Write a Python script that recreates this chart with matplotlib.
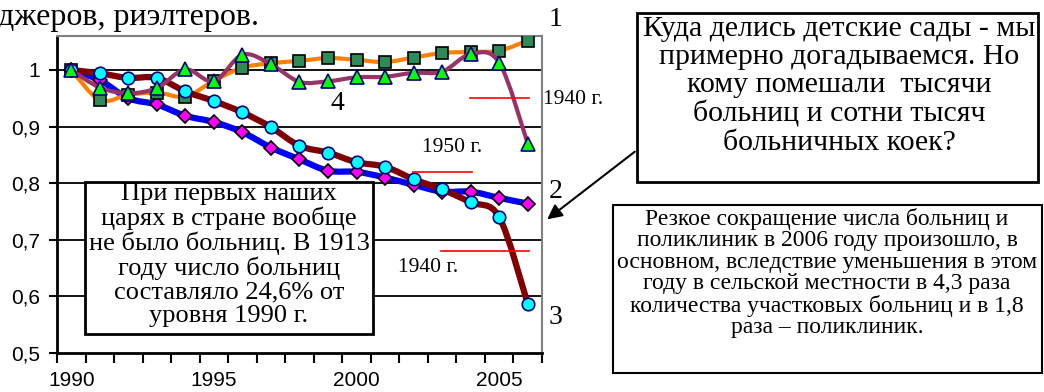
import matplotlib
matplotlib.use("Agg")
import matplotlib.pyplot as plt
from matplotlib.path import Path
from matplotlib.patches import PathPatch, Rectangle, FancyArrowPatch
import numpy as np

W, H = 1044, 392

years = list(range(1990, 2007))
year_labels = ["1990", "1995", "2000", "2005"]

# 1 - orange / squares
s1 = [1.0, 0.947, 0.956, 0.96, 0.953, 0.981, 1.004, 1.012, 1.016, 1.021,
      1.018, 1.014, 1.022, 1.03, 1.032, 1.034, 1.052]
# 2 - blue / diamonds
s2 = [1.0, 0.982, 0.95, 0.939, 0.919, 0.908, 0.89, 0.863, 0.842, 0.822,
      0.82, 0.81, 0.797, 0.785, 0.785, 0.774, 0.764]
# 3 - maroon / circles
s3 = [1.0, 0.994, 0.986, 0.986, 0.962, 0.945, 0.925, 0.899, 0.866, 0.854,
      0.837, 0.829, 0.807, 0.789, 0.766, 0.74, 0.587]
# 4 - mauve / triangles
s4 = [1.0, 0.969, 0.959, 0.968, 1.001, 0.98, 1.027, 1.01, 0.979, 0.98,
      0.987, 0.988, 0.995, 0.997, 1.028, 1.013, 0.87]

# reference levels (red marks): label, value, first year, last year
ref_levels = [("1940 г.", 0.95, 2004, 2006),
              ("1950 г.", 0.82, 2002, 2004),
              ("1940 г.", 0.68, 2003, 2006)]

plt.rcParams['font.family'] = ['Liberation Serif', 'DejaVu Serif']


def px(x, y):
    return x / W, 1 - y / H


def smooth_path(xs, ys):
    # bezier smoothing like Excel "smoothed line"
    pts = np.column_stack([xs, ys])
    n = len(pts)
    verts = [pts[0]]
    codes = [Path.MOVETO]
    for i in range(n - 1):
        p0 = pts[max(i - 1, 0)]
        p1 = pts[i]
        p2 = pts[i + 1]
        p3 = pts[min(i + 2, n - 1)]
        c1 = p1 + (p2 - p0) / 6.0
        c2 = p2 - (p3 - p1) / 6.0
        verts += [c1, c2, p2]
        codes += [Path.CURVE4] * 3
    return Path(verts, codes)


fig = plt.figure(figsize=(W / 100, H / 100), dpi=100)
ax = fig.add_axes([57 / W, 1 - 353 / H, 485 / W, 317 / H])

x = np.arange(len(years))

series = [
    (s2, '#0000FF', 4.5, 'D', '#FF00FF', 'black', 7.5, 3),
    (s1, '#FF7F00', 3.0, 's', '#2E8B57', 'black', 9, 4),
    (s3, '#800000', 4.5, 'o', '#00FFFF', '#000080', 9, 5),
    (s4, '#993366', 3.0, '^', '#00FF00', '#000080', 10, 6),
]
for vals, lc, lw, mk, mfc, mec, ms, z in series:
    ax.add_patch(PathPatch(smooth_path(x, vals), facecolor='none',
                           edgecolor=lc, lw=lw, zorder=z, capstyle='round',
                           joinstyle='round'))
    ax.plot(x, vals, linestyle='none', marker=mk, markerfacecolor=mfc,
            markeredgecolor=mec, markeredgewidth=1.2, markersize=ms, zorder=z + 0.5)

for lab, v, y0, y1 in ref_levels:
    ax.plot([years.index(y0) - 0.03, years.index(y1) + 0.06], [v, v],
            color='red', lw=1.2, zorder=7)

ax.set_xlim(-0.5, len(years) - 0.5)
ax.set_ylim(0.5, 1.06)
ax.set_yticks([0.5, 0.6, 0.7, 0.8, 0.9, 1.0])
ax.set_yticklabels(["0,5", "0,6", "0,7", "0,8", "0,9", "1"])
ax.set_xticks([years.index(int(s)) for s in year_labels])
ax.set_xticklabels(year_labels)
ax.set_xticks(np.arange(-0.5, len(years)), minor=True)
ax.tick_params(axis='x', which='major', length=0, pad=13)
ax.tick_params(axis='x', which='minor', length=7, width=1.5, direction='out')
ax.tick_params(axis='y', length=6, width=1.5, direction='out', pad=6)
for lab in ax.get_xticklabels() + ax.get_yticklabels():
    lab.set_fontfamily('Liberation Sans')
    lab.set_fontsize(15)

for yv in [0.6, 0.7, 0.8, 0.9, 1.0]:
    ax.axhline(yv, color='black', lw=1.3, zorder=1)

ax.spines['left'].set_linewidth(2)
ax.spines['bottom'].set_linewidth(2)
ax.spines['top'].set_color('#808080')
ax.spines['right'].set_color('#808080')
ax.spines['top'].set_linewidth(1.5)
ax.spines['right'].set_linewidth(1.5)

# series labels
fig.text(*px(549, 20), "1", fontsize=20, ha='left', va='center')
fig.text(*px(549, 192), "2", fontsize=20, ha='left', va='center')
fig.text(*px(549, 318), "3", fontsize=20, ha='left', va='center')
fig.text(*px(337, 103), "4", fontsize=20, ha='center', va='center')

# level labels
fig.text(*px(543, 100), "1940 г.", fontsize=15.5, ha='left', va='center')
fig.text(*px(452, 148), "1950 г.", fontsize=15.5, ha='center', va='center')
fig.text(*px(428, 268), "1940 г.", fontsize=15.5, ha='center', va='center')

# cut-off text at the top
fig.text(*px(-2, 18), "джеров, риэлтеров.", fontsize=23, ha='left', va='center')

# left box
fig.patches.append(Rectangle(px(85, 334), 288 / W, 152 / H, transform=fig.transFigure,
                             facecolor='white', edgecolor='black', lw=2, zorder=10))
fig.text(*px(229, 255), "При первых наших\nцарях в стране вообще\nне было больниц. В 1913\n"
         "году число больниц\nсоставляло 24,6% от\nуровня 1990 г.",
         fontsize=19, ha='center', va='center', linespacing=1.09, zorder=11)

# upper right box
fig.patches.append(Rectangle(px(637, 182), 401 / W, 169 / H, transform=fig.transFigure,
                             facecolor='white', edgecolor='black', lw=2, zorder=10))
fig.text(*px(839, 86), "Куда делись детские сады - мы\nпримерно догадываемся. Но\n"
         "кому помешали  тысячи\nбольниц и сотни тысяч\nбольничных коек?",
         fontsize=21.5, ha='center', va='center', linespacing=1.1, zorder=11)

# lower right box
fig.patches.append(Rectangle(px(613, 373), 429 / W, 168 / H, transform=fig.transFigure,
                             facecolor='white', edgecolor='black', lw=1.5, zorder=10))
fig.text(*px(827, 273), "Резкое сокращение числа больниц и\nполиклиник в 2006 году произошло, в\n"
         "основном, вследствие уменьшения в этом\nгоду в сельской местности в 4,3 раза\n"
         "количества участковых больниц и в 1,8\nраза – поликлиник.",
         fontsize=17, ha='center', va='center', linespacing=1.03, zorder=11)

# arrow from the upper box to the chart
fig.add_artist(FancyArrowPatch(px(637, 150), px(545, 221), transform=fig.transFigure,
                               arrowstyle='-|>', mutation_scale=22,
                               color='black', lw=1.5))

fig.savefig("out.png", dpi=100)
